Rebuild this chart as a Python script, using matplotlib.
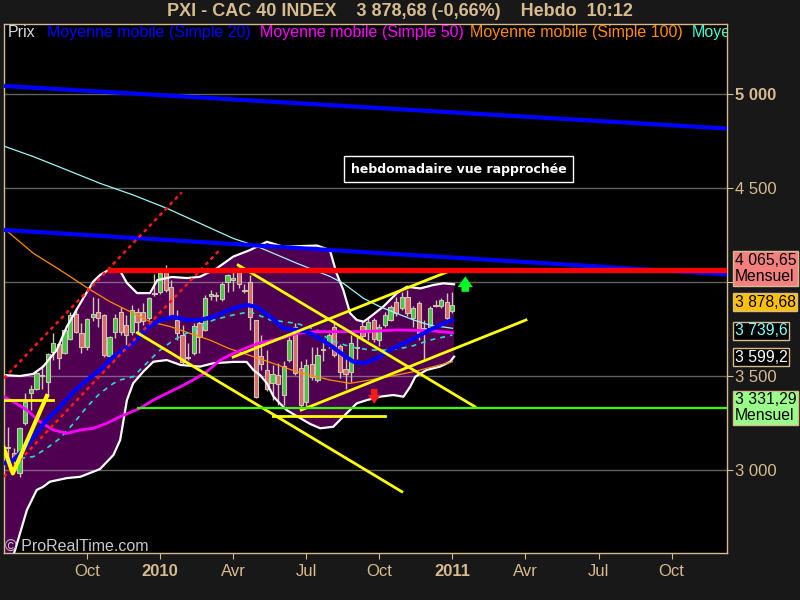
import matplotlib
matplotlib.use('Agg')
import matplotlib.pyplot as plt
import numpy as np
import pandas as pd

plt.rcParams['font.family'] = ['Liberation Sans', 'DejaVu Sans']

# bougies hebdo CAC 40
opens = [3125, 3090, 2985, 3252, 3410, 3430, 3500, 3470, 3629, 3670,
         3624, 3695, 3830, 3727, 3653, 3813, 3842, 3822, 3606, 3736,
         3842, 3771, 3736, 3842, 3842, 3807, 3935, 3949, 4055, 3975,
         3798, 3718, 3595, 3621, 3780, 3745, 3928, 3924, 3908, 4002,
         4010, 4075, 3960, 3998, 3798, 3604, 3532, 3462, 3505, 3399,
         3585, 3763, 3541, 3364, 3564, 3479, 3640, 3677, 3763, 3660,
         3535, 3523, 3648, 3766, 3736, 3798, 3691, 3771, 3798, 3896,
         3860, 3919, 3807, 3890, 3750, 3763, 3873, 3872, 3893, 3848]
closes = [3115, 3064, 3223, 3363, 3431, 3518, 3505, 3617, 3677, 3597,
          3745, 3825, 3736, 3653, 3802, 3828, 3807, 3612, 3706, 3809,
          3736, 3718, 3851, 3789, 3793, 3913, 3942, 4050, 3957, 3819,
          3727, 3576, 3603, 3766, 3709, 3913, 3934, 3929, 3989, 4037,
          4020, 3990, 3950, 3815, 3390, 3564, 3430, 3511, 3456, 3553,
          3691, 3515, 3346, 3559, 3496, 3612, 3645, 3718, 3612, 3523,
          3511, 3674, 3655, 3715, 3789, 3695, 3763, 3825, 3869, 3834,
          3919, 3834, 3860, 3730, 3758, 3860, 3880, 3904, 3807, 3878.68]
highs = [3230, 3117, 3230, 3410, 3452, 3525, 3558, 3622, 3729, 3675,
         3750, 3842, 3860, 3780, 3810, 3922, 3914, 3830, 3712, 3830,
         3868, 3824, 3878, 3860, 3888, 3920, 4040, 4055, 4090, 4010,
         3850, 3770, 3674, 3780, 3800, 3930, 3960, 3945, 4000, 4040,
         4075, 4085, 3990, 4037, 3800, 3718, 3640, 3560, 3570, 3580,
         3705, 3780, 3580, 3590, 3656, 3656, 3700, 3730, 3780, 3670,
         3590, 3720, 3710, 3790, 3810, 3810, 3775, 3840, 3880, 3922,
         3947, 3957, 3870, 3900, 3798, 3870, 3902, 3915, 3941, 3949]
lows = [3040, 3000, 2965, 3240, 3320, 3425, 3430, 3390, 3585, 3537,
        3615, 3690, 3730, 3620, 3640, 3790, 3760, 3600, 3580, 3700,
        3718, 3665, 3720, 3700, 3771, 3800, 3925, 3935, 3945, 3810,
        3692, 3559, 3585, 3610, 3620, 3740, 3905, 3900, 3900, 3949,
        3950, 3970, 3940, 3745, 3383, 3530, 3420, 3372, 3346, 3346,
        3575, 3505, 3335, 3340, 3480, 3470, 3580, 3650, 3600, 3490,
        3430, 3470, 3590, 3690, 3690, 3680, 3660, 3760, 3790, 3820,
        3850, 3820, 3760, 3691, 3585, 3750, 3865, 3860, 3800, 3835]

# moyennes mobiles (semaine, valeur)
ma20_x = [-0.8, 0.9, 2.7, 4.5, 6.8, 9.2, 11.6, 14.0, 16.3, 18.7, 22.2, 24.6, 27.0, 29.4, 31.7, 34.1, 36.5, 40.0,
          42.4, 44.2, 46.6, 48.9, 51.3, 53.1, 54.9, 57.2, 59.6, 61.4, 63.2, 65.6, 67.9, 70.3, 72.7, 75.0, 77.4, 79.0]
ma20_v = [3036, 3053, 3106, 3177, 3266, 3337, 3417, 3479, 3532, 3603, 3674, 3754, 3798, 3815, 3798, 3798, 3815, 3860,
          3878, 3867, 3815, 3754, 3745, 3736, 3709, 3665, 3612, 3576, 3568, 3594, 3638, 3674, 3709, 3745, 3780, 3798]
ma50_x = [-0.8, 0.9, 3.3, 5.6, 8.0, 10.4, 12.8, 15.1, 17.5, 19.9, 23.4, 25.8, 28.2, 30.6, 32.9, 35.3, 37.7, 40.0,
          42.4, 44.5, 47.1, 49.5, 51.3, 54.9, 63.2, 69.1, 75.0, 79.0]
ma50_v = [3390, 3363, 3319, 3257, 3213, 3195, 3213, 3222, 3248, 3284, 3328, 3372, 3408, 3443, 3479, 3523, 3585, 3620,
          3650, 3674, 3691, 3709, 3727, 3736, 3736, 3745, 3741, 3730]
ma100_x = [-0.8, 4.45, 9.2, 14.2, 18.1, 21.7, 25.2, 28.8, 32.3, 35.9, 39.2, 45.4, 51.3, 57.2, 60.8, 66.1, 72.1, 79.0]
ma100_v = [4285, 4153, 4064, 3966, 3895, 3842, 3789, 3763, 3727, 3691, 3647, 3585, 3523, 3479, 3461, 3488, 3523, 3576]
ma200_x = [-0.8, 4.45, 10.4, 16.3, 22.2, 28.2, 34.1, 40.0, 44.2, 51.3, 57.2, 59.6, 63.2, 66.1, 69.1, 72.1, 75.0, 79.0]
ma200_v = [4723, 4667, 4596, 4525, 4463, 4392, 4312, 4232, 4190, 4100, 4030, 3993, 3913, 3869, 3833, 3798, 3771, 3754]
tir_x = [2.1, 4.45, 6.8, 9.2, 11.6, 14.0, 16.3, 18.7, 19.9, 22.2, 24.6, 27.0, 29.4, 31.7, 34.1, 36.5, 40.0, 43.0,
         46.6, 51.3, 54.9, 57.2, 60.8, 64.4, 67.9, 71.5, 75.0, 79.0]
tir_v = [3062, 3071, 3115, 3169, 3248, 3337, 3408, 3461, 3479, 3496, 3568, 3638, 3691, 3727, 3762, 3798, 3825, 3842,
         3798, 3780, 3745, 3691, 3656, 3638, 3638, 3656, 3691, 3718]

# bandes de Bollinger
bb_haut_x = [-0.8, 2.1, 4.4, 6.2, 8.6, 10.4, 12.8, 15.1, 16.3, 18.1, 19.9, 21.1, 22.9, 25.2, 26.5, 29.1, 31.8, 34.1,
             37.1, 40.0, 43.0, 46.0, 48.9, 54.9, 57.2, 58.4, 59.6, 60.8, 62.0, 63.2, 64.4, 66.7, 69.1, 70.9, 73.3,
             75.6, 77.4, 79.3]
bb_haut_v = [3505, 3500, 3511, 3550, 3638, 3762, 3887, 4002, 4037, 4069, 4058, 3995, 3941, 3941, 4010, 4027, 4021, 4028,
             4073, 4135, 4170, 4214, 4188, 4194, 4170, 4046, 3957, 3834, 3798, 3789, 3815, 3869, 3940, 3975, 3966,
             3984, 3993, 3988]
bb_bas_x = [-0.8, 1.2, 3.3, 5.05, 6.2, 7.4, 10.4, 12.8, 16.3, 18.7, 19.9, 20.5, 21.1, 22.2, 24.0, 25.8, 28.2, 30.6,
            34.1, 36.5, 40.0, 42.4, 43.6, 44.8, 46.0, 47.2, 48.3, 49.5, 51.3, 53.7, 55.5, 57.8, 60.2, 62.0, 63.8,
            66.1, 68.5, 70.3, 71.5, 72.4, 74.4, 76.8, 78.6, 79.3]
bb_bas_v = [2400, 2574, 2787, 2894, 2911, 2938, 2957, 2964, 3005, 3080, 3160, 3266, 3372, 3461, 3523, 3576, 3585, 3559,
            3550, 3568, 3575, 3575, 3532, 3505, 3461, 3390, 3355, 3319, 3287, 3245, 3222, 3230, 3302, 3355, 3372,
            3390, 3399, 3390, 3443, 3496, 3532, 3550, 3576, 3603]

# lignes tracees a la main
bleu_haut = ([-0.8, 128], [5043, 4816])
bleu_bas = ([-0.8, 128], [4277, 4040])
jaune_lignes = [([22.95, 70.0], [3730, 2885]),
                ([40.9, 83.0], [4090, 3337]),
                ([40.0, 78.3], [3601, 4056]),
                ([52.1, 92.1], [3319, 3798]),
                ([-0.9, 8.0], [3372, 3372]),
                ([47.1, 67.0], [3289, 3289])]
jaune_v = ([-0.77, 0.8, 6.85], [3116, 2982, 3394])
rouge_pointilles = [([-0.77, 30.85], [3488, 4477]),
                    ([-0.77, 37.7], [2964, 4174])]
resistance, resistance_debut = 4065.65, 17.6
support, support_debut = 3331.29, 22.9

semaines = pd.date_range('2009-06-29', periods=129, freq='W-MON')
x = np.arange(len(opens))
o = np.array(opens); c = np.array(closes)

fig = plt.figure(figsize=(8, 6), dpi=100, facecolor='#181818')
ax = fig.add_axes([0.005, 0.0783, 0.90375, 0.8817], facecolor='black')
ax.set_xlim(-0.77, 127.86)
ax.set_ylim(2558.6, 5372.3)

tan = '#d6bb8e'

# bollinger
ax.fill(np.r_[bb_haut_x, bb_bas_x[::-1]], np.r_[bb_haut_v, bb_bas_v[::-1]], color='#500050', lw=0, zorder=1)
ax.plot(bb_haut_x, bb_haut_v, color='white', lw=1.6, zorder=2.5)
ax.plot(bb_bas_x, bb_bas_v, color='white', lw=1.6, zorder=2.5)

# bougies
couleurs = np.where(c >= o, '#46c846', '#d96a6a')
ax.vlines(x, lows, highs, color='#cfc3b3', lw=1, zorder=2)
ax.bar(x, c - o, bottom=o, width=0.75, color=couleurs, edgecolor='#cfc3b3', linewidth=0.8, zorder=2.2)

# moyennes
ax.plot(ma200_x, ma200_v, color='#9ff5f5', lw=0.9, zorder=3)
ax.plot(ma100_x, ma100_v, color='#ff8c00', lw=0.9, zorder=3)
ax.plot(tir_x, tir_v, color='#30d8d0', lw=1.2, ls=(0, (3, 3)), zorder=3)
ax.plot(ma50_x, ma50_v, color='#ff00ff', lw=2, zorder=3)
ax.plot(ma20_x, ma20_v, color='#0000ff', lw=3, zorder=3.1)

# tendances
ax.plot(*bleu_haut, color='#0000ff', lw=3, zorder=3.5)
ax.plot(*bleu_bas, color='#0000ff', lw=3, zorder=3.5)
for lx, lv in rouge_pointilles:
    ax.plot(lx, lv, color='#ff1a1a', lw=1.8, ls=(0, (1.5, 1.5)), zorder=3.5)
for lx, lv in jaune_lignes:
    ax.plot(lx, lv, color='#ffff00', lw=2, zorder=3.5)
ax.plot(*jaune_v, color='#ffff00', lw=3, zorder=3.5)
ax.hlines(resistance, resistance_debut, 128, color='#ff0000', lw=3.8, zorder=3.6)
ax.hlines(support, support_debut, 128, color='#33ff00', lw=1.6, zorder=3.6)

# fleches
style_fleche = 'simple,head_width=1.0,head_length=0.7,tail_width=0.5'
ax.annotate('', xy=(81.3, 4030), xytext=(81.3, 3948),
            arrowprops=dict(arrowstyle=style_fleche, fc='#00ff22', ec='none', mutation_scale=11,
                            shrinkA=0, shrinkB=0), zorder=4)
ax.annotate('', xy=(65.1, 3353), xytext=(65.1, 3432),
            arrowprops=dict(arrowstyle=style_fleche, fc='#ff1a1a', ec='none', mutation_scale=9,
                            shrinkA=0, shrinkB=0), zorder=4)

# axes
for s in ax.spines.values():
    s.set_color(tan)
    s.set_linewidth(1)
ax.yaxis.tick_right()
yt = [3000, 3500, 4000, 4500, 5000]
ax.set_yticks(yt)
# le 4 000 est masque par l'etiquette de la resistance
ax.set_yticklabels(['' if v == 4000 else f'{v:,}'.replace(',', ' ') for v in yt])
ax.get_yticklabels()[-1].set_fontweight('bold')
ax.tick_params(axis='y', colors=tan, labelsize=12, length=4, pad=2)
ax.grid(axis='y', color='#b0b0b0', alpha=0.55, lw=1)

mois = {4: 'Avr', 7: 'Jul', 10: 'Oct'}
pos, lab = [], []
for i in range(4, len(semaines)):  # pas de libelle colle au bord gauche
    d = semaines[i]
    if d.month != semaines[i - 1].month and d.month in (1, 4, 7, 10):
        pos.append(i)
        lab.append(str(d.year) if d.month == 1 else mois[d.month])
ax.set_xticks(pos)
ax.set_xticklabels(lab)
for t in ax.get_xticklabels():
    if t.get_text().isdigit():
        t.set_fontweight('bold')
ax.tick_params(axis='x', colors=tan, labelsize=12, length=4, pad=4)

# legende en haut (la derniere est coupee par le bord)
legende = [('Prix', '#d8d8d8', 0.005), ('Moyenne mobile (Simple 20)', '#0000ff', 0.0595),
           ('Moyenne mobile (Simple 50)', '#ff00ff', 0.354), ('Moyenne mobile (Simple 100)', '#ff8c00', 0.6445),
           ('Moye', '#40ffd0', 0.9516)]
for txt, col, px in legende:
    ax.text(px, 0.983, txt, color=col, fontsize=11.5, transform=ax.transAxes, va='center', ha='left',
            clip_on=True, zorder=6)

fig.text(0.5, 1 - 12 / 600, 'PXI - CAC 40 INDEX    3 878,68 (-0,66%)    Hebdo  10:12', color=tan,
         fontsize=13, fontweight='bold', ha='center', va='center')

ax.text(0.6286, 0.7259, 'hebdomadaire vue rapprochée', color='white', fontsize=9, fontweight='bold',
        family='DejaVu Sans', transform=ax.transAxes, ha='center', va='center', zorder=6,
        bbox=dict(boxstyle='square,pad=0.5', fc='black', ec='white', lw=1))

ax.text(0.0015, 0.0132, '© ProRealTime.com', color='#c8c8c8', fontsize=11.5, transform=ax.transAxes,
        ha='left', va='center', zorder=6)

# etiquettes de droite
etiquettes = [(4072, '4 065,65\nMensuel', 'black', '#f47f7f'),
              (3893, '3 878,68', 'black', '#ffc000'),
              (3739.6, '3 739,6', '#80ffff', 'black'),
              (3599.2, '3 599,2', 'white', 'black'),
              (3331.29, '3 331,29\nMensuel', 'black', '#99ff88')]
for v, txt, col, fond in etiquettes:
    ax.text(1.0105, v, txt, color=col, fontsize=11.3, transform=ax.get_yaxis_transform(), ha='left', va='center',
            clip_on=False, zorder=8, linespacing=1.1,
            bbox=dict(boxstyle='square,pad=0.1', fc=fond, ec=tan, lw=1))

fig.savefig('out.png', dpi=100, facecolor=fig.get_facecolor())
